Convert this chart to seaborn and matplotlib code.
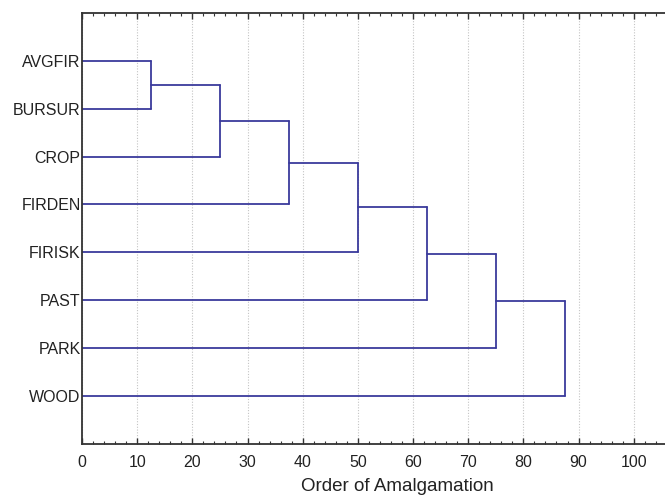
import numpy as np
import pandas as pd
import matplotlib
matplotlib.use("Agg")
import matplotlib.pyplot as plt
from matplotlib.ticker import MultipleLocator
import seaborn as sns

# leaves top to bottom, and the linkage distance of each successive merge
labels = ['AVGFIR', 'BURSUR', 'CROP', 'FIRDEN', 'FIRISK', 'PAST', 'PARK', 'WOOD']
merge_heights = [12.5, 25.0, 37.5, 50.0, 62.5, 75.0, 87.5]

LINE_COLOR = '#3a3a9c'

sns.set_style('ticks')
plt.rcParams['font.family'] = ['Liberation Sans', 'DejaVu Sans']
plt.rcParams['font.size'] = 11

# build the chained dendrogram segments
rows = []
seg = 0
cur_y = 1.0
cur_x = 0.0
for i, h in enumerate(merge_heights):
    leaf_y = i + 2.0
    # horizontal from current cluster to merge height
    rows += [(seg, cur_x, cur_y), (seg, h, cur_y)]
    seg += 1
    # horizontal from next leaf
    rows += [(seg, 0.0, leaf_y), (seg, h, leaf_y)]
    seg += 1
    # vertical joining both
    rows += [(seg, h, cur_y), (seg, h, leaf_y)]
    seg += 1
    cur_y = (cur_y + leaf_y) / 2
    cur_x = h
segs = pd.DataFrame(rows, columns=['seg', 'x', 'y'])

fig = plt.figure(figsize=(6.65, 4.95), dpi=100)
ax = fig.add_axes([0.1233, 0.103, 0.950, 0.871])

sns.lineplot(data=segs, x='x', y='y', units='seg', estimator=None, sort=False,
             color=LINE_COLOR, linewidth=1.3, ax=ax)

ax.set_xlim(0, 114.5)
ax.set_ylim(9, 0)
ax.set_yticks(np.arange(1, len(labels) + 1))
ax.set_yticklabels(labels)
ax.xaxis.set_minor_locator(MultipleLocator(2))
ax.set_xticks(np.arange(0, 101, 10))
ax.tick_params(axis='x', which='both', direction='in', top=True, bottom=True,
               colors='#333333', labelcolor='#222222', labelsize=11.5, pad=8)
ax.tick_params(axis='x', which='major', length=4, width=1)
ax.tick_params(axis='x', which='minor', length=2, width=0.8)
ax.tick_params(axis='y', length=0, pad=1, labelsize=11.5, labelcolor='#222222')
ax.grid(axis='x', which='major', linestyle=(0, (1, 1.5)), color='#c4c4c4', linewidth=0.8)
ax.set_axisbelow(True)

for s in ['left', 'bottom', 'top', 'right']:
    ax.spines[s].set_color('#333333')
    ax.spines[s].set_linewidth(1.3)

ax.set_xlabel('Order of Amalgamation', fontsize=13.5, color='#222222', labelpad=6)
ax.set_ylabel('')

fig.savefig('out.png', dpi=100)
